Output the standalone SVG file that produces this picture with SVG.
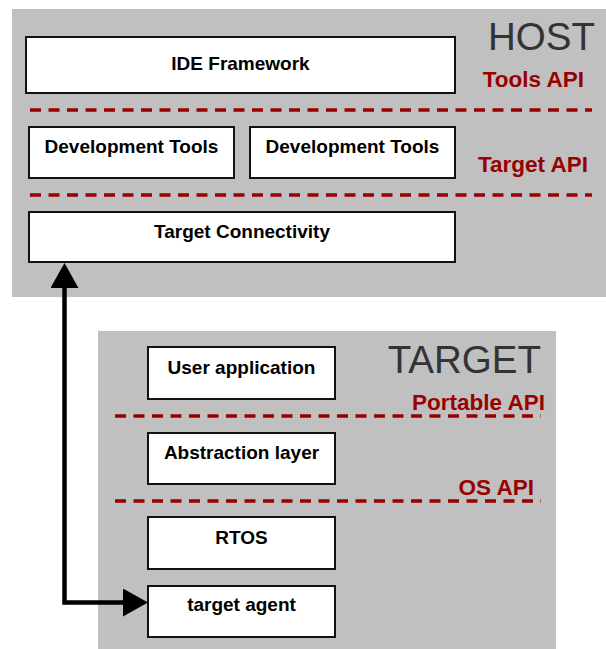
<svg xmlns="http://www.w3.org/2000/svg" width="606" height="649" viewBox="0 0 606 649">
<style>
.bg{fill:#c0c0c0}
.box{fill:#fff;stroke:#111;stroke-width:2}
.lbl{font-family:"Liberation Sans",Arial,sans-serif;font-weight:bold;font-size:19px;fill:#000;text-anchor:middle}
.title{font-family:"Liberation Sans",Arial,sans-serif;font-size:38.5px;fill:#333}
.api{font-family:"Liberation Sans",Arial,sans-serif;font-weight:bold;font-size:22.5px;fill:#990000;text-anchor:end}
.dash{stroke:#990000;stroke-width:3.3;stroke-dasharray:11 7.5;fill:none}
.conn{stroke:#000;stroke-width:4.5;fill:none;stroke-linejoin:miter}
</style>
<defs>
<marker id="ah" markerUnits="userSpaceOnUse" markerWidth="26" markerHeight="30" refX="0" refY="14" orient="auto-start-reverse">
<path d="M0,0 L25,14 L0,28 z" fill="#000"/>
</marker>
</defs>
<g id="host">
<rect class="bg" x="12" y="9" width="594" height="288"/>
<text class="title" x="595" y="50" text-anchor="end">HOST</text>
<text class="api" x="584" y="87">Tools API</text>
<text class="api" x="588" y="172">Target API</text>
<line class="dash" x1="30" y1="110" x2="592" y2="110"/>
<line class="dash" x1="30" y1="195" x2="592" y2="195"/>
</g>
<g id="ide-framework"><rect class="box" x="26" y="37" width="429" height="56"/><text class="lbl" x="240.5" y="70">IDE Framework</text></g>
<g id="dev-tools-1"><rect class="box" x="29" y="127" width="205" height="51"/><text class="lbl" x="131.5" y="153">Development Tools</text></g>
<g id="dev-tools-2"><rect class="box" x="250" y="127" width="205" height="51"/><text class="lbl" x="352.5" y="153">Development Tools</text></g>
<g id="target-connectivity"><rect class="box" x="29" y="212" width="426" height="50"/><text class="lbl" x="242" y="238">Target Connectivity</text></g>
<g id="target">
<rect class="bg" x="98" y="331" width="458" height="318"/>
<text class="title" x="541" y="373" text-anchor="end">TARGET</text>
<text class="api" x="545" y="410">Portable API</text>
<text class="api" x="534" y="495">OS API</text>
<line class="dash" x1="115" y1="416" x2="541" y2="416"/>
<line class="dash" x1="115" y1="501" x2="541" y2="501"/>
</g>
<g id="user-application"><rect class="box" x="148" y="347" width="187" height="52"/><text class="lbl" x="241.5" y="374">User application</text></g>
<g id="abstraction-layer"><rect class="box" x="148" y="433" width="187" height="51"/><text class="lbl" x="241.5" y="459">Abstraction layer</text></g>
<g id="rtos"><rect class="box" x="148" y="517" width="187" height="52"/><text class="lbl" x="241.5" y="544">RTOS</text></g>
<g id="target-agent"><rect class="box" x="148" y="586" width="187" height="51"/><text class="lbl" x="241.5" y="611">target agent</text></g>
<g id="connectors">
<path class="conn" d="M123,602.5 H64.5 V288" marker-start="url(#ah)" marker-end="url(#ah)"/>
</g>
</svg>
